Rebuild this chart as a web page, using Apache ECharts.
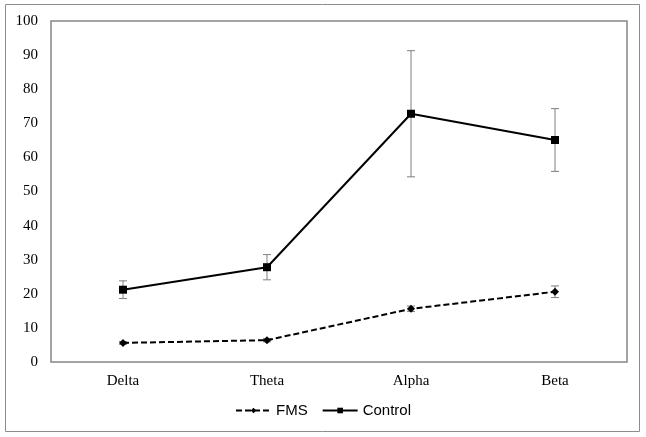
<!DOCTYPE html>
<html><head><meta charset="utf-8">
<script src="https://cdn.jsdelivr.net/npm/echarts@6/dist/echarts.min.js"></script>
<style>html,body{margin:0;padding:0;background:#fff}#c{width:646px;height:437px}</style>
</head><body><div id="c"></div>
<script>
const categories = ['Delta', 'Theta', 'Alpha', 'Beta'];
const fmsValues = [5.6, 6.4, 15.6, 20.6];
const fmsErrors = [0.4, 0.5, 0.8, 1.7];
const controlValues = [21.2, 27.8, 72.8, 65.1];
const controlErrors = [2.6, 3.7, 18.5, 9.2];
const yTicks = [0, 100, 10];

function errSeries(vals, errs) {
  return {
    type: 'custom',
    silent: true,
    z: 1,
    data: vals.map((v, i) => [i, v - errs[i], v + errs[i]]),
    renderItem: function (params, api) {
      const lo = api.coord([api.value(0), api.value(1)]);
      const hi = api.coord([api.value(0), api.value(2)]);
      const w = 4;
      const st = { stroke: '#7f7f7f', lineWidth: 1 };
      return { type: 'group', children: [
        { type: 'line', shape: { x1: lo[0], y1: lo[1], x2: hi[0], y2: hi[1] }, style: st },
        { type: 'line', shape: { x1: lo[0] - w, y1: lo[1], x2: lo[0] + w, y2: lo[1] }, style: st },
        { type: 'line', shape: { x1: hi[0] - w, y1: hi[1], x2: hi[0] + w, y2: hi[1] }, style: st }
      ]};
    }
  };
}

const chart = echarts.init(document.getElementById('c'));
chart.setOption({
  animation: false,
  graphic: [{ type: 'rect', shape: { x: 5.5, y: 4.5, width: 634, height: 427 }, style: { fill: 'none', stroke: '#8c8c8c', lineWidth: 1 }, z: -10 }],
  grid: { left: 51, right: 19, top: 21, bottom: 75, show: true, borderColor: '#868686', borderWidth: 1.5 },
  xAxis: {
    type: 'category', data: categories, boundaryGap: true,
    axisLine: { show: false }, axisTick: { show: false },
    axisLabel: { fontFamily: 'Liberation Serif', fontSize: 15, color: '#000', margin: 12 }
  },
  yAxis: {
    type: 'value', min: yTicks[0], max: yTicks[1], interval: yTicks[2],
    splitLine: { show: false }, axisLine: { show: false }, axisTick: { show: false },
    axisLabel: { fontFamily: 'Liberation Serif', fontSize: 15, color: '#000', margin: 13 }
  },
  legend: {
    bottom: 14, left: 'center', itemWidth: 35, itemHeight: 7, itemGap: 14,
    textStyle: { fontFamily: "'Liberation Sans Narrow', 'Liberation Sans'", fontSize: 15, color: '#000' },
    data: ['FMS', 'Control']
  },
  series: [
    errSeries(fmsValues, fmsErrors),
    errSeries(controlValues, controlErrors),
    { name: 'FMS', type: 'line', data: fmsValues, z: 3, symbol: 'diamond', symbolSize: 8,
      itemStyle: { color: '#000' }, lineStyle: { color: '#000', width: 2, type: [6, 3] } },
    { name: 'Control', type: 'line', data: controlValues, z: 3, symbol: 'rect', symbolSize: 8,
      itemStyle: { color: '#000' }, lineStyle: { color: '#000', width: 2 } }
  ]
});
</script></body></html>
